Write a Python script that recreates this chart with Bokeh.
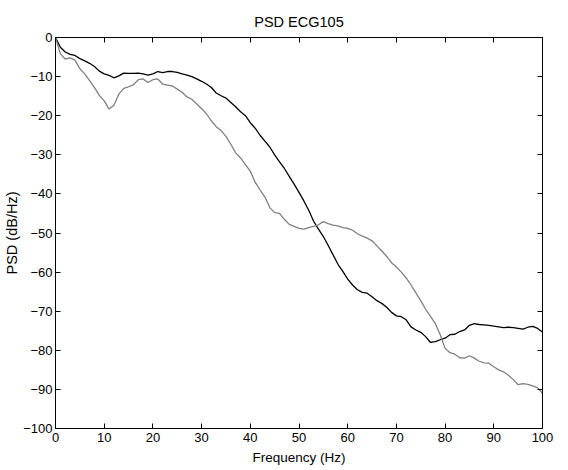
from bokeh.plotting import figure
from bokeh.models import Range1d, LinearAxis, FixedTicker, CustomLabelingPolicy
from bokeh.embed import file_html
from bokeh.resources import INLINE

freq = list(range(0, 101))

psd_black = [
    0.0, -2.5, -3.7, -4.3, -4.6, -5.4, -6.0, -6.6, -7.4, -8.6,
    -9.3, -9.7, -10.3, -9.8, -9.1, -9.2, -9.2, -9.1, -9.3, -9.6,
    -9.3, -8.7, -9.0, -8.7, -8.7, -8.9, -9.3, -9.6, -10.0, -10.6,
    -11.2, -11.9, -12.8, -14.2, -14.9, -15.5, -16.6, -17.7, -19.0, -20.0,
    -21.8, -23.2, -25.0, -26.5, -28.0, -30.0, -31.8, -33.5, -35.5, -37.5,
    -39.6, -41.8, -44.2, -47.0, -49.0, -50.9, -53.2, -55.6, -58.0, -59.8,
    -61.8, -63.3, -64.5, -65.2, -65.4, -66.3, -67.3, -68.0, -69.0, -70.3,
    -71.2, -71.4, -72.2, -74.0, -74.8, -75.4, -76.5, -78.0, -77.8, -77.3,
    -76.9, -76.0, -75.9, -75.2, -74.8, -73.6, -73.2, -73.4, -73.5, -73.6,
    -73.8, -74.0, -74.2, -74.1, -74.2, -74.4, -74.6, -74.1, -73.9, -74.4,
    -75.3,
]

psd_gray = [
    0.0, -4.2, -5.5, -5.2, -5.8, -8.0, -9.3, -11.0, -12.8, -14.8,
    -16.2, -18.3, -17.3, -14.5, -13.0, -12.6, -12.1, -10.8, -10.6, -11.5,
    -10.8, -10.6, -11.9, -12.2, -12.4, -13.2, -14.0, -15.2, -15.8, -17.0,
    -18.2, -19.5, -21.3, -22.8, -23.8, -25.3, -27.3, -29.5, -30.8, -32.5,
    -34.2, -37.0, -39.0, -40.8, -43.5, -44.8, -45.0, -46.5, -47.8, -48.3,
    -48.8, -49.0, -48.6, -48.3, -47.9, -47.1, -47.6, -48.0, -48.2, -48.6,
    -48.8, -49.3, -50.2, -50.8, -51.3, -52.0, -53.3, -54.6, -56.0, -57.6,
    -58.7, -60.0, -61.5, -63.3, -65.3, -67.3, -69.5, -71.3, -73.2, -76.0,
    -79.5, -80.6, -81.0, -81.9, -82.0, -81.4, -82.0, -82.8, -83.2, -83.3,
    -84.2, -85.0, -85.5, -86.4, -87.5, -88.8, -88.5, -88.7, -89.1, -89.6,
    -91.0,
]

x_ticks = [0, 10, 20, 30, 40, 50, 60, 70, 80, 90, 100]
y_ticks = [0, -10, -20, -30, -40, -50, -60, -70, -80, -90, -100]

FONT = "Liberation Sans"

p = figure(
    width=568, height=470,
    x_range=Range1d(0, 100), y_range=Range1d(-100, 0),
    output_backend="svg", toolbar_location=None,
    title="PSD ECG105",
    min_border_left=55, min_border_right=26,
    min_border_top=37, min_border_bottom=42,
)
p.background_fill_color = "white"
p.border_fill_color = "white"
p.outline_line_color = "black"
p.outline_line_width = 1
p.grid.visible = False

p.title.align = "center"
p.title.standoff = 15
p.title.text_font = FONT
p.title.text_font_size = "14.5px"
p.title.text_font_style = "normal"
p.title.text_color = "black"

p.line(freq, psd_black, line_color="black", line_width=1.3)
p.line(freq, psd_gray, line_color="#808080", line_width=1.3)

def style_axis(ax, ticks, show_labels=True):
    ax.ticker = FixedTicker(ticks=ticks)
    ax.major_tick_in = 5
    ax.major_tick_out = 0
    ax.minor_tick_in = 0
    ax.minor_tick_out = 0
    ax.axis_line_color = "black"
    ax.major_tick_line_color = "black"
    ax.major_label_text_font = FONT
    ax.major_label_text_font_size = "13px"
    ax.major_label_text_color = "black"
    ax.axis_label_text_font = FONT
    ax.axis_label_text_font_size = "13.5px"
    ax.axis_label_text_font_style = "normal"
    ax.axis_label_text_color = "black"
    if not show_labels:
        ax.major_label_text_font_size = "0px"
        ax.major_label_standoff = 0
        ax.major_label_policy = CustomLabelingPolicy(code="return []")

xa = p.xaxis[0]
style_axis(xa, x_ticks)
xa.axis_label = "Frequency (Hz)"
xa.major_label_standoff = 4
xa.axis_label_standoff = 5

ya = p.yaxis[0]
style_axis(ya, y_ticks)
ya.axis_label = "PSD (dB/Hz)"
ya.axis_label_text_font_size = "14.5px"
ya.major_label_standoff = 3
ya.axis_label_standoff = 0

top = LinearAxis()
style_axis(top, x_ticks, show_labels=False)
p.add_layout(top, "above")

right = LinearAxis()
style_axis(right, y_ticks, show_labels=False)
p.add_layout(right, "right")

open("out.html", "w").write(file_html(p, INLINE))
